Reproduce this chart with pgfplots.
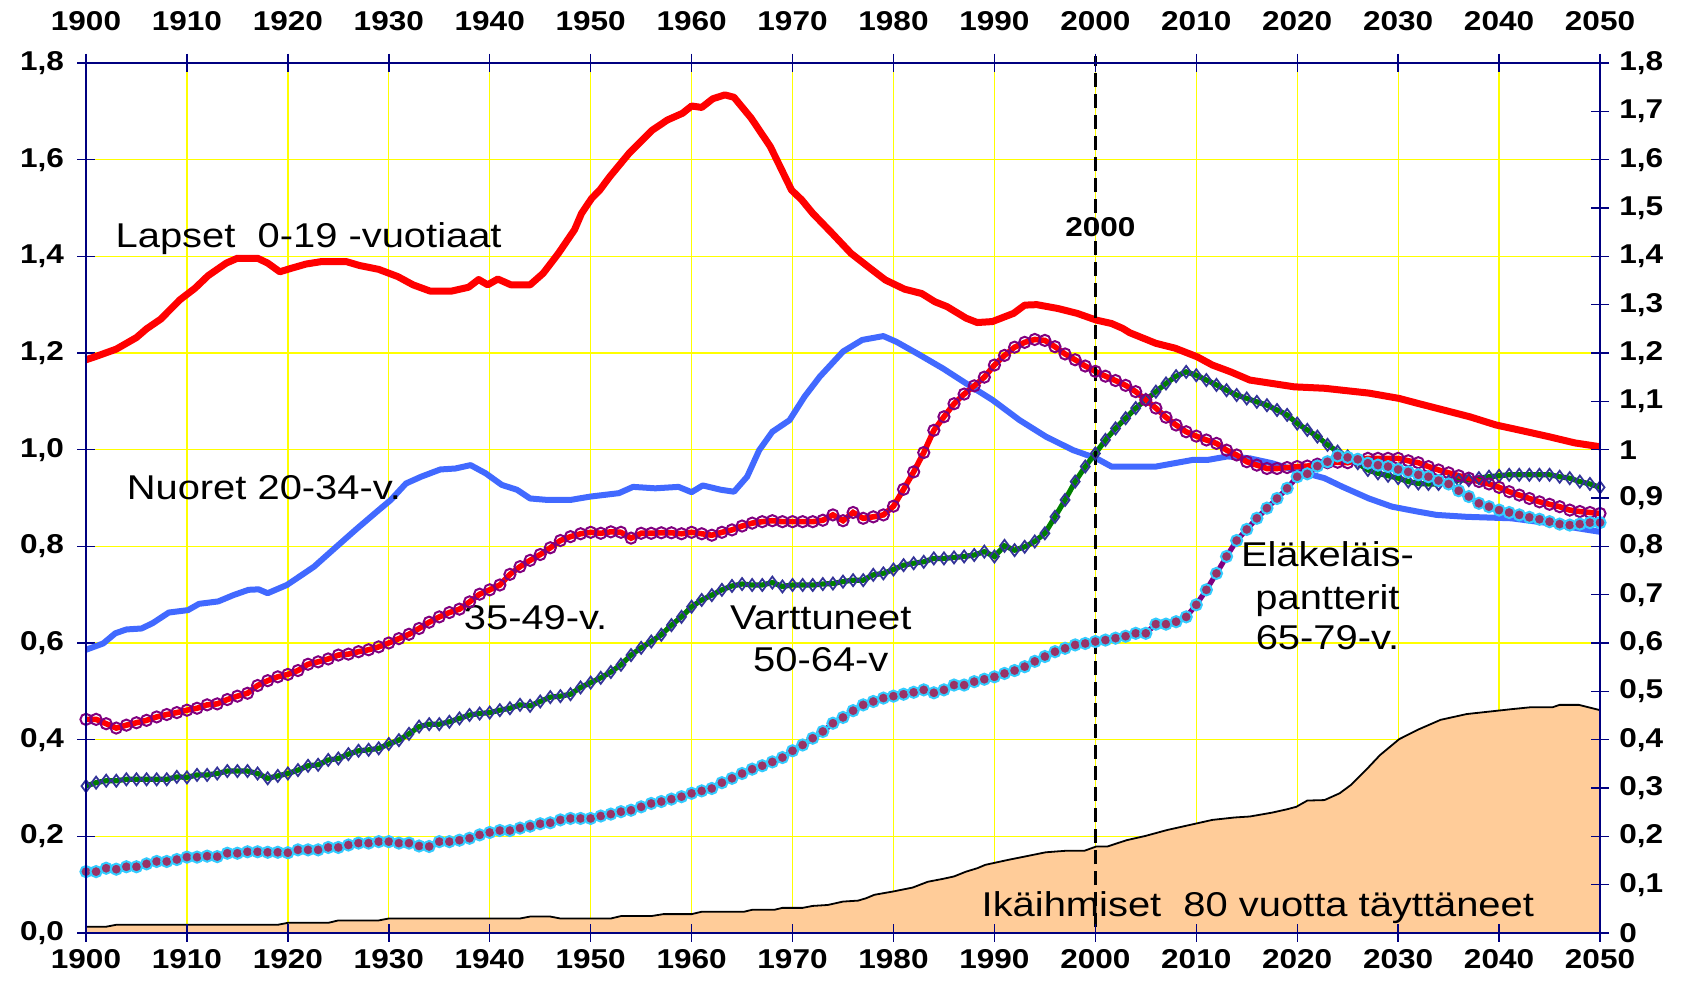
\documentclass[border=0pt]{standalone}
\usepackage{fontspec}
\setmainfont{Liberation Sans}[FakeStretch=1.16]
\usepackage{pgfplots}
\usepackage{pgfplotstable}
\pgfplotsset{compat=1.18}
\definecolor{navyax}{RGB}{0,0,128}
\definecolor{gridyel}{RGB}{255,255,0}
\definecolor{lapsred}{RGB}{255,0,0}
\definecolor{nuorblue}{RGB}{65,105,255}
\definecolor{purp}{RGB}{128,0,128}
\definecolor{grn}{RGB}{0,128,0}
\definecolor{diam}{RGB}{51,51,153}
\definecolor{maroonm}{RGB}{153,51,102}
\definecolor{cyanedge}{RGB}{51,204,255}
\definecolor{peach}{RGB}{255,204,153}

\pgfplotstableread{
year mid vart pant
1900 0.442 0.304 0.127
1901 0.442 0.311 0.127
1902 0.433 0.315 0.134
1903 0.424 0.315 0.132
1904 0.430 0.318 0.137
1905 0.435 0.318 0.137
1906 0.440 0.318 0.143
1907 0.447 0.318 0.148
1908 0.452 0.318 0.148
1909 0.456 0.323 0.152
1910 0.461 0.322 0.157
1911 0.465 0.327 0.157
1912 0.472 0.327 0.159
1913 0.474 0.330 0.158
1914 0.483 0.335 0.165
1915 0.490 0.335 0.165
1916 0.496 0.335 0.168
1917 0.512 0.330 0.168
1918 0.522 0.320 0.167
1919 0.530 0.325 0.167
1920 0.535 0.330 0.166
1921 0.543 0.337 0.172
1922 0.556 0.346 0.172
1923 0.561 0.348 0.172
1924 0.567 0.358 0.177
1925 0.575 0.361 0.177
1926 0.577 0.370 0.182
1927 0.582 0.377 0.186
1928 0.586 0.379 0.186
1929 0.592 0.382 0.189
1930 0.600 0.391 0.189
1931 0.609 0.399 0.186
1932 0.618 0.412 0.186
1933 0.630 0.427 0.180
1934 0.643 0.432 0.179
1935 0.654 0.432 0.189
1936 0.663 0.437 0.189
1937 0.670 0.444 0.192
1938 0.685 0.451 0.196
1939 0.701 0.454 0.203
1940 0.710 0.456 0.208
1941 0.720 0.461 0.212
1942 0.742 0.465 0.212
1943 0.758 0.472 0.217
1944 0.771 0.470 0.221
1945 0.783 0.479 0.226
1946 0.797 0.488 0.228
1947 0.812 0.490 0.234
1948 0.820 0.494 0.237
1949 0.826 0.508 0.237
1950 0.829 0.518 0.237
1951 0.827 0.528 0.242
1952 0.830 0.540 0.246
1953 0.829 0.555 0.251
1954 0.817 0.575 0.254
1955 0.827 0.590 0.261
1956 0.827 0.603 0.268
1957 0.828 0.617 0.272
1958 0.828 0.637 0.277
1959 0.826 0.654 0.282
1960 0.829 0.675 0.289
1961 0.826 0.689 0.294
1962 0.823 0.699 0.299
1963 0.829 0.710 0.311
1964 0.834 0.718 0.320
1965 0.842 0.722 0.330
1966 0.848 0.720 0.339
1967 0.851 0.720 0.346
1968 0.853 0.725 0.354
1969 0.851 0.717 0.363
1970 0.851 0.720 0.377
1971 0.851 0.720 0.389
1972 0.851 0.720 0.403
1973 0.854 0.722 0.417
1974 0.865 0.723 0.434
1975 0.853 0.727 0.446
1976 0.870 0.730 0.460
1977 0.858 0.730 0.472
1978 0.861 0.741 0.479
1979 0.865 0.744 0.486
1980 0.883 0.752 0.490
1981 0.918 0.761 0.494
1982 0.954 0.765 0.498
1983 0.994 0.768 0.503
1984 1.040 0.775 0.497
1985 1.068 0.775 0.503
1986 1.095 0.777 0.513
1987 1.115 0.779 0.513
1988 1.132 0.782 0.520
1989 1.150 0.789 0.525
1990 1.175 0.779 0.530
1991 1.195 0.801 0.537
1992 1.212 0.792 0.543
1993 1.222 0.799 0.551
1994 1.228 0.810 0.562
1995 1.226 0.827 0.572
1996 1.213 0.861 0.582
1997 1.198 0.896 0.589
1998 1.186 0.934 0.596
1999 1.173 0.965 0.599
2000 1.162 0.992 0.603
2001 1.152 1.020 0.606
2002 1.143 1.044 0.610
2003 1.133 1.065 0.614
2004 1.120 1.086 0.620
2005 1.103 1.103 0.620
2006 1.086 1.120 0.639
2007 1.067 1.137 0.639
2008 1.051 1.152 0.644
2009 1.037 1.161 0.654
2010 1.028 1.154 0.679
2011 1.020 1.144 0.710
2012 1.013 1.134 0.744
2013 0.999 1.123 0.779
2014 0.989 1.113 0.812
2015 0.975 1.106 0.835
2016 0.968 1.099 0.858
2017 0.961 1.092 0.879
2018 0.961 1.082 0.899
2019 0.963 1.072 0.920
2020 0.965 1.054 0.944
2021 0.966 1.041 0.950
2022 0.970 1.027 0.966
2023 0.973 1.010 0.975
2024 0.974 0.996 0.987
2025 0.973 0.986 0.984
2026 0.979 0.972 0.980
2027 0.982 0.958 0.972
2028 0.982 0.951 0.968
2029 0.982 0.946 0.965
2030 0.982 0.941 0.959
2031 0.977 0.934 0.954
2032 0.973 0.930 0.948
2033 0.965 0.929 0.944
2034 0.958 0.929 0.936
2035 0.952 0.934 0.929
2036 0.946 0.937 0.915
2037 0.941 0.937 0.903
2038 0.934 0.941 0.889
2039 0.929 0.944 0.882
2040 0.922 0.946 0.875
2041 0.913 0.948 0.870
2042 0.906 0.948 0.865
2043 0.899 0.948 0.860
2044 0.892 0.948 0.856
2045 0.887 0.948 0.851
2046 0.882 0.944 0.846
2047 0.875 0.941 0.844
2048 0.872 0.934 0.846
2049 0.870 0.929 0.849
2050 0.868 0.922 0.849
}\tabgroups

\pgfplotstableread{
year v
1900 0.013
1902 0.013
1903 0.017
1919 0.017
1920 0.021
1924 0.021
1925 0.026
1929 0.026
1930 0.030
1943 0.030
1944 0.034
1946 0.034
1947 0.030
1952 0.030
1953 0.035
1956 0.035
1957.2 0.039
1960 0.039
1961 0.044
1965.2 0.044
1966 0.048
1968.2 0.048
1969 0.052
1971 0.052
1972 0.056
1973.5 0.058
1975 0.065
1976.5 0.067
1977.3 0.072
1978.1 0.079
1980 0.086
1981.9 0.094
1983.4 0.106
1984.9 0.112
1986 0.117
1987.2 0.127
1988.3 0.134
1989.1 0.141
1991.3 0.151
1993.2 0.159
1995.1 0.167
1997 0.170
1998.9 0.170
2000.1 0.179
2001.2 0.179
2003.1 0.192
2005 0.201
2007.1 0.213
2010.1 0.227
2011.6 0.234
2013.8 0.239
2015.3 0.241
2017.5 0.249
2019 0.256
2019.9 0.261
2021 0.274
2022.7 0.275
2024.2 0.289
2025.3 0.306
2026.8 0.337
2028.2 0.368
2030.1 0.401
2032 0.421
2034.2 0.441
2036.8 0.453
2039 0.458
2041.2 0.463
2043.1 0.467
2045.3 0.467
2046 0.472
2047.9 0.472
2050 0.461
}\tabold

\newcommand{\lab}{\fontsize{17.2}{21}\selectfont}
\newcommand{\tlab}{\fontsize{13.6}{16}\selectfont\bfseries}

\begin{document}
\begin{tikzpicture}
\useasboundingbox (0,0) rectangle (843pt,494.5pt);
\begin{axis}[
  at={(43pt,28pt)}, anchor=south west,
  scale only axis, width=757pt, height=435pt,
  xmin=1900, xmax=2050, ymin=0, ymax=1.8,
  xtick={1900,1910,1920,1930,1940,1950,1960,1970,1980,1990,2000,2010,2020,2030,2040,2050},
  ytick={0,0.2,0.4,0.6,0.8,1.0,1.2,1.4,1.6,1.8},
  grid=major, grid style={gridyel, line width=0.65pt},
  axis line style={navyax, line width=0.7pt},
  tick style={navyax, line width=0.7pt},
  major tick length=9pt, tick align=center,
  xtick pos=both, ytick pos=left,
  xticklabel pos=lower,
  yticklabel shift=3pt,
  ticklabel style={font=\tlab, text=black},
  x tick label style={/pgf/number format/1000 sep={}},
  y tick label style={/pgf/number format/.cd, fixed, fixed zerofill, precision=1, use comma},
  /pgf/number format/assume math mode=true,
  clip=false,
]
\addplot[fill=peach, draw=none] table[x=year,y=v] {\tabold} \closedcycle;
\addplot[black, line width=0.9pt] table[x=year,y=v] {\tabold};

\addplot[nuorblue, line width=3pt, line join=round] coordinates {
(1900,0.586) (1901.7,0.599) (1902.9,0.62) (1904,0.628) (1905.5,0.63) (1906.6,0.641) (1908.2,0.663) (1910.1,0.668) (1911.2,0.681) (1913.1,0.686) (1914.6,0.699) (1916.1,0.71) (1917.1,0.711) (1918,0.703) (1919.9,0.72) (1921.4,0.741) (1922.6,0.758) (1924.1,0.786) (1926.7,0.834) (1929,0.875) (1930.2,0.896) (1931.7,0.93) (1933.2,0.944) (1935.1,0.959) (1936.6,0.961) (1938.1,0.968) (1939.6,0.951) (1941.2,0.927) (1942.7,0.917) (1944,0.899) (1945.7,0.896) (1948,0.896) (1950,0.903) (1952.8,0.91) (1954.2,0.923) (1956.4,0.92) (1958.7,0.923) (1960,0.912) (1961.1,0.926) (1962.9,0.917) (1964.2,0.913) (1965.5,0.944) (1966.7,0.999) (1968,1.037) (1969.7,1.061) (1971.2,1.11) (1972.7,1.151) (1975,1.203) (1976.9,1.227) (1979,1.235) (1980.3,1.223) (1982.6,1.196) (1984.9,1.168) (1987.2,1.137) (1989.8,1.103) (1992.5,1.061) (1995.1,1.027) (1997.8,0.999) (2000.1,0.982) (2001.6,0.965) (2006,0.965) (2009.7,0.979) (2011.2,0.979) (2013.1,0.986) (2015.3,0.982) (2017.5,0.972) (2019.7,0.958) (2022.7,0.941) (2024.5,0.923) (2027.1,0.899) (2029.4,0.882) (2031.9,0.872) (2033.8,0.865) (2036.8,0.861) (2041.2,0.858) (2044.9,0.848) (2047.9,0.837) (2050,0.83)
};

\addplot[lapsred, line width=3.5pt, line join=round] coordinates {
(1900,1.186) (1901,1.193) (1903,1.208) (1905,1.232) (1906,1.25) (1907.4,1.27) (1909.3,1.31) (1910.8,1.334) (1912.1,1.36) (1913.9,1.386) (1915,1.396) (1917,1.396) (1918,1.386) (1919.2,1.368) (1920.3,1.375) (1921.8,1.384) (1923.3,1.389) (1925.8,1.389) (1927.1,1.381) (1929,1.373) (1930.9,1.358) (1932.4,1.341) (1934.1,1.328) (1936.2,1.328) (1937.9,1.336) (1938.9,1.352) (1939.8,1.341) (1940.8,1.353) (1942.1,1.341) (1944,1.341) (1945.3,1.365) (1946.8,1.406) (1948.4,1.455) (1949.1,1.489) (1950.1,1.52) (1950.9,1.537) (1951.9,1.565) (1953.8,1.613) (1956.1,1.661) (1957.6,1.682) (1959.1,1.696) (1960,1.711) (1961,1.708) (1962.1,1.726) (1963.3,1.734) (1964.2,1.729) (1965.9,1.686) (1967.8,1.627) (1969.9,1.537) (1970.9,1.517) (1972,1.489) (1973.9,1.448) (1975.8,1.406) (1977.7,1.375) (1979.2,1.351) (1981.1,1.332) (1982.8,1.323) (1984.1,1.306) (1985.3,1.296) (1987.2,1.272) (1988.3,1.263) (1989.8,1.265) (1991.9,1.282) (1993,1.299) (1994.2,1.3) (1996.3,1.292) (1998.2,1.282) (2000.1,1.268) (2001.6,1.261) (2002.7,1.251) (2003.4,1.242) (2006,1.22) (2007.9,1.21) (2010.1,1.192) (2011.6,1.175) (2013.4,1.161) (2015.3,1.144) (2017.5,1.137) (2019.7,1.13) (2022.7,1.127) (2024.9,1.122) (2027.1,1.117) (2030.1,1.106) (2031.9,1.096) (2034.5,1.082) (2037.1,1.068) (2039.7,1.051) (2041.9,1.041) (2044.9,1.027) (2047.5,1.014) (2050,1.006)
};

\addplot[grn, line width=2.6pt, mark=diamond, mark size=3pt,
  mark options={draw=diam, line width=0.9pt, solid}] table[x=year,y=vart] {\tabgroups};
\addplot[lapsred, line width=2.8pt, mark=o, mark size=2.8pt,
  mark options={draw=purp, line width=1pt, solid}] table[x=year,y=mid] {\tabgroups};
\addplot[purp, line width=2.6pt, mark=*, mark size=2.8pt,
  mark options={draw=cyanedge, fill=maroonm, line width=1pt, solid}] table[x=year,y=pant] {\tabgroups};

\node[anchor=base west, inner sep=0pt, font=\lab] at (axis cs:1902.9,1.419) {Lapset\ \ 0-19 -vuotiaat};
\node[anchor=base west, inner sep=0pt, font=\lab] at (axis cs:1904.0,0.896) {Nuoret 20-34-v.};
\node[anchor=base west, inner sep=0pt, font=\lab] at (axis cs:1937.4,0.627) {35-49-v.};
\node[anchor=base, font=\lab] at (axis cs:1972.8,0.627) {Varttuneet};
\node[anchor=base, font=\lab] at (axis cs:1972.8,0.542) {50-64-v};
\node[anchor=base, font=\lab] at (axis cs:2023,0.759) {Eläkeläis-};
\node[anchor=base, font=\lab] at (axis cs:2023,0.670) {pantterit};
\node[anchor=base, font=\lab] at (axis cs:2023,0.586) {65-79-v.};
\node[anchor=base west, inner sep=0pt, font=\lab] at (axis cs:1988.7,0.035) {Ikäihmiset\ \ 80 vuotta täyttäneet};
\node[anchor=base, font=\tlab] at (axis cs:2000.5,1.441) {2000};

\addplot[black, line width=1.6pt, dash pattern=on 7pt off 3.5pt] coordinates {(2000,0.012) (2000,1.815)};
\end{axis}

\begin{axis}[
  at={(43pt,28pt)}, anchor=south west,
  scale only axis, width=757pt, height=435pt,
  xmin=1900, xmax=2050, ymin=0, ymax=1.8,
  xtick={1900,1910,1920,1930,1940,1950,1960,1970,1980,1990,2000,2010,2020,2030,2040,2050},
  ytick={0,0.1,0.2,0.3,0.4,0.5,0.6,0.7,0.8,0.9,1,1.1,1.2,1.3,1.4,1.5,1.6,1.7,1.8},
  axis line style={navyax, line width=0.7pt},
  tick style={navyax, line width=0.7pt},
  major tick length=9pt, tick align=center,
  xtick pos=both, xticklabel pos=upper,
  ytick pos=right, yticklabel pos=right,
  xticklabel shift=8pt, yticklabel shift=1.6pt,
  ticklabel style={font=\tlab, text=black},
  x tick label style={/pgf/number format/1000 sep={}},
  y tick label style={/pgf/number format/.cd, use comma},
  /pgf/number format/assume math mode=true,
]
\end{axis}
\end{tikzpicture}
\end{document}
